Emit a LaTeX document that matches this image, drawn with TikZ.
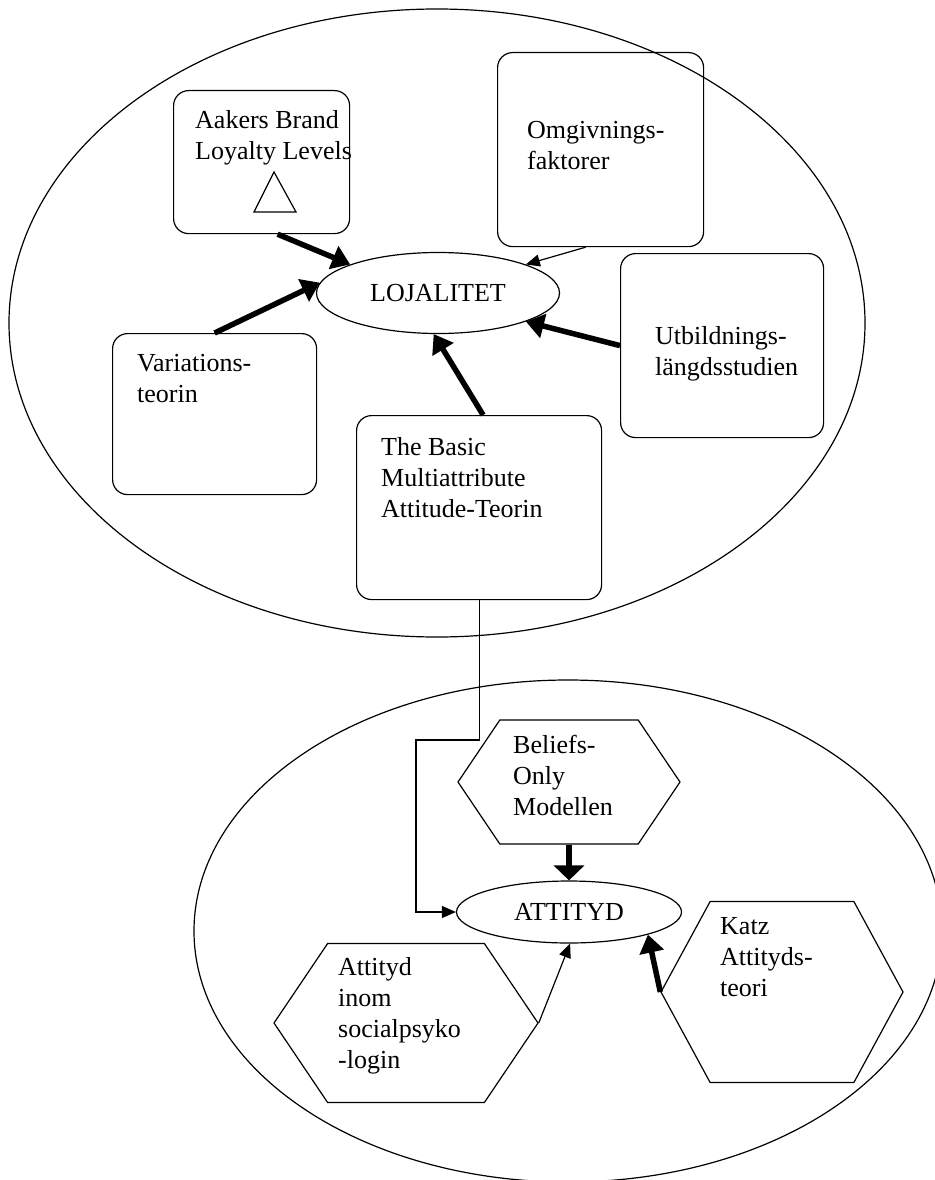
\documentclass[tikz,border=0pt]{standalone}
\usepackage{fontspec}
\setmainfont{Liberation Serif}
\usetikzlibrary{shapes.geometric,shapes.symbols,arrows.meta}

\begin{document}
\begin{tikzpicture}[x=1pt,y=-1pt,
  box/.style={draw,line width=1.2pt,rounded corners=15pt,anchor=north west,inner sep=0pt},
  hexa/.style={draw,line width=1.2pt,shape=signal,signal to=west and east,inner sep=0pt},
  oval/.style={draw,line width=1.2pt,ellipse,inner sep=0pt},
  txt/.style={anchor=north west,align=left,inner sep=0pt},
  fat/.style={line width=5.5pt,-{Triangle[length=18pt,width=24pt]}},
  slim/.style={line width=1.2pt,-{Triangle[length=14pt,width=12pt]}},
  font=\fontsize{26}{31}\selectfont]
\useasboundingbox (0,0) rectangle (934,1180);
\draw [line width=1.2pt] (437,323) ellipse [x radius=428pt, y radius=314pt];
\draw [line width=1.2pt] (568,931) ellipse [x radius=374pt, y radius=251pt];
\node [box,minimum width=176pt,minimum height=143pt] (aaker) at (173,90) {};
\node [box,minimum width=206pt,minimum height=194pt] (omgiv) at (497,52) {};
\node [box,minimum width=203pt,minimum height=184pt] (utbild) at (620,253) {};
\node [box,minimum width=204pt,minimum height=161pt] (variat) at (112,333) {};
\node [box,minimum width=245pt,minimum height=184pt] (basic) at (356,415) {};
\node [oval,minimum width=243pt,minimum height=81pt] (loja) at (438,293) {LOJALITET};
\node [oval,minimum width=225pt,minimum height=62pt] (att) at (569,912) {ATTITYD};
\node [hexa,signal pointer angle=112,minimum width=222pt,minimum height=124pt] (beliefs) at (569,782) {};
\node [hexa,signal pointer angle=112,minimum width=264pt,minimum height=159pt] (socpsyk) at (406,1023) {};
\node [hexa,signal pointer angle=123,minimum width=242pt,minimum height=181pt] (katz) at (782,992) {};
\draw [line width=1.2pt] (254,212) -- (274,172) -- (296,212) -- cycle;
\node [txt] (aakertxt) at (195,110) {Aakers Brand\\Loyalty Levels};
\node [txt] (omgivtxt) at (527,121) {Omgivnings-\\faktorer};
\node [txt] (utbildtxt) at (655,326) {Utbildnings-\\längdsstudien};
\node [txt] (variattxt) at (137,354) {Variations-\\teorin};
\node [txt] (basictxt) at (381,437) {The Basic\\Multiattribute\\Attitude-Teorin};
\node [txt] (beliefstxt) at (513,735) {Beliefs-\\Only\\Modellen};
\node [txt] (socpsyktxt) at (338,957) {Attityd\\inom\\socialpsyko\\-login};
\node [txt] (katztxt) at (720,917) {Katz\\Attityds-\\teori};
\coordinate (bend) at (416,740);
\draw [fat] ([xshift=16pt]aaker.south) -- (loja.162);
\draw [slim] ([xshift=-15pt]omgiv.south) -- (loja.18);
\draw [fat] (variat.north) -- (loja.175);
\draw [fat] (utbild.west) -- (loja.-18);
\draw [fat] ([xshift=4pt]basic.north) -- (loja.-96);
\draw [slim] (basic.south) |- (bend) |- (att.west);
\draw [line width=6pt,-{Triangle[length=15pt,width=30pt]}] (beliefs.south) -- (att.north);
\draw [slim] (socpsyk.east) -- (att.-88);
\draw [fat] (katz.west) -- (att.-16);
\end{tikzpicture}
\end{document}
